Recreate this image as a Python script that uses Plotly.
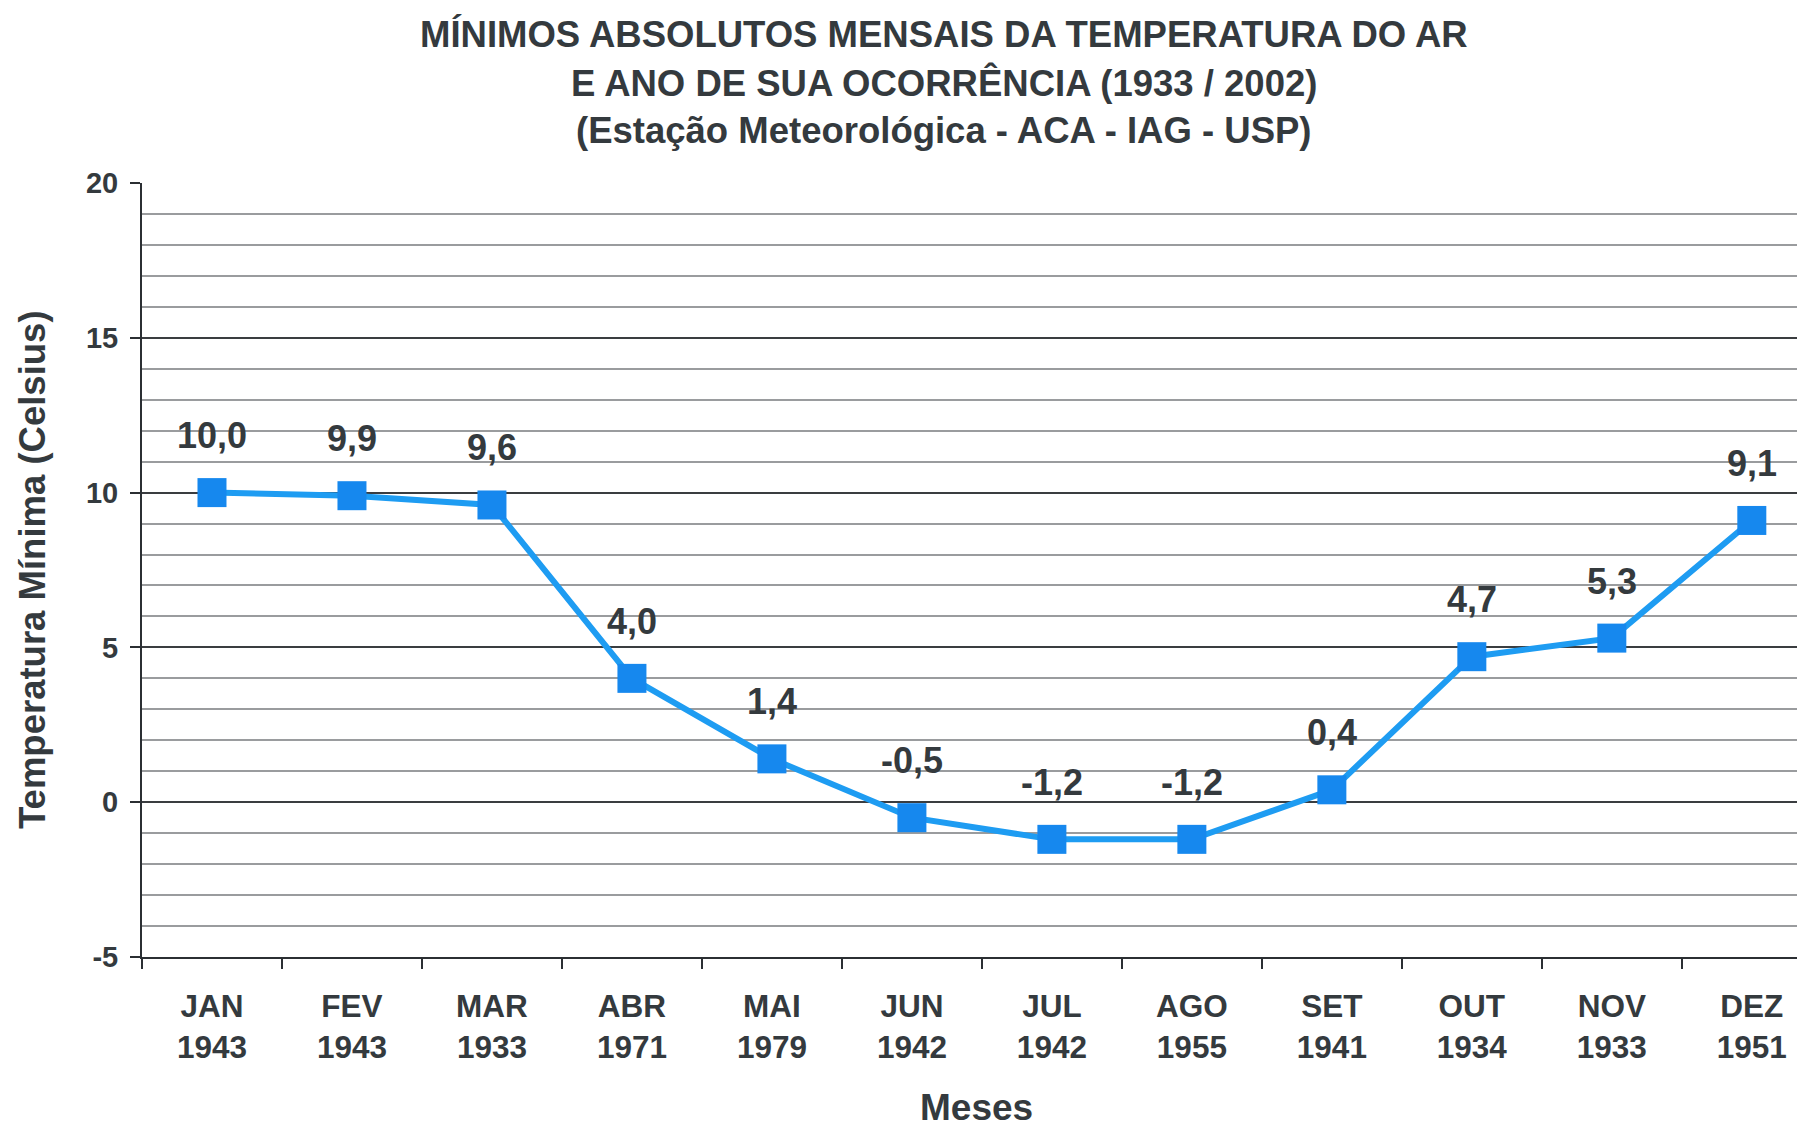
import plotly.graph_objects as go

months = ["JAN", "FEV", "MAR", "ABR", "MAI", "JUN", "JUL", "AGO", "SET", "OUT", "NOV", "DEZ"]
years = ["1943", "1943", "1933", "1971", "1979", "1942", "1942", "1955", "1941", "1934", "1933", "1951"]
temps = [10.0, 9.9, 9.6, 4.0, 1.4, -0.5, -1.2, -1.2, 0.4, 4.7, 5.3, 9.1]
labels = ["10,0", "9,9", "9,6", "4,0", "1,4", "-0,5", "-1,2", "-1,2", "0,4", "4,7", "5,3", "9,1"]
ytick_vals = [-5, 0, 5, 10, 15, 20]
ytick_text = ["-5", "0", "5", "10", "15", "20"]
title_lines = [
    "MÍNIMOS ABSOLUTOS MENSAIS DA TEMPERATURA DO AR",
    "E ANO DE SUA OCORRÊNCIA (1933 / 2002)",
    "(Estação Meteorológica - ACA - IAG - USP)",
]

cats = [f"{m}<br>{y}" for m, y in zip(months, years)]
TXT = "#343a3e"
FONT = "Liberation Sans, Arial, sans-serif"

# page body has an 8px margin; figure is sized to fill the rest of the window
W, H = 1797, 1122
L, T, B = 134, 175, 173
PW, PH = W - L, H - T - B


def px(xs):
    return (xs - 8 - L) / PW


def py(ys):
    return (H - B - (ys - 8)) / PH


fig = go.Figure()
fig.add_trace(go.Scatter(
    x=cats, y=temps, mode="lines+markers",
    line=dict(color="#1e9cf2", width=6),
    marker=dict(symbol="square", size=29, color="#1688ee"),
    hoverinfo="skip", showlegend=False,
))

for c, v, t in zip(cats, temps, labels):
    fig.add_annotation(x=c, y=v, text=f"<b>{t}</b>", showarrow=False,
                       yshift=57, font=dict(size=36, color=TXT, family=FONT))

for line, ys in zip(title_lines, [35, 83, 130]):
    fig.add_annotation(xref="paper", yref="paper", x=px(944), y=py(ys),
                       xanchor="center", yanchor="middle", showarrow=False,
                       text=f"<b>{line}</b>", font=dict(size=36.5, color=TXT, family=FONT))

fig.add_annotation(xref="paper", yref="paper", x=px(32), y=py(570),
                   xanchor="center", yanchor="middle", showarrow=False, textangle=-90,
                   text="<b>Temperatura Mínima (Celsius)</b>",
                   font=dict(size=36.5, color=TXT, family=FONT))
fig.add_annotation(xref="paper", yref="paper", x=px(976), y=py(1107),
                   xanchor="center", yanchor="middle", showarrow=False,
                   text="<b>Meses</b>", font=dict(size=37, color=TXT, family=FONT))

fig.update_layout(
    width=W, height=H,
    margin=dict(l=L, r=0, t=T, b=B),
    paper_bgcolor="white", plot_bgcolor="white",
    font=dict(family=FONT, color=TXT),
)

fig.update_xaxes(
    type="category", range=[-0.5, 11.38],
    showline=True, linecolor="#2b2f33", linewidth=2,
    ticks="outside", tickson="boundaries", ticklen=10, tickwidth=2, tickcolor="#2b2f33",
    tickfont=dict(size=31.5, color=TXT, family=FONT),
    tickprefix="<b>", ticksuffix="</b>", ticklabelstandoff=20,
    showgrid=False,
)

fig.update_yaxes(
    range=[-5, 20], tickvals=ytick_vals, ticktext=[f"<b>{t}</b>" for t in ytick_text],
    showline=True, linecolor="#2b2f33", linewidth=2,
    ticks="outside", ticklen=10, tickwidth=2, tickcolor="#2b2f33",
    tickfont=dict(size=29, color=TXT, family=FONT),
    ticklabelstandoff=6,
    showgrid=True, gridcolor="#3a3d40", gridwidth=2,
    zeroline=False,
    minor=dict(dtick=1, tick0=0, showgrid=True, gridcolor="#9a9c9e", gridwidth=1.5),
)

fig.write_html("out.html")
